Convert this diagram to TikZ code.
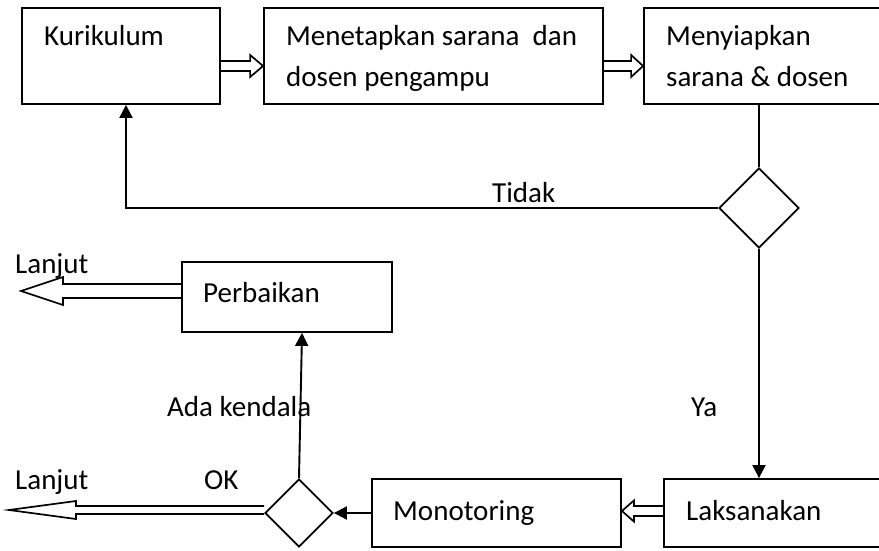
\documentclass[tikz,border=0pt]{standalone}
\usepackage{fontspec}
\setmainfont{Carlito}
\usetikzlibrary{shapes.geometric,arrows.meta,calc}

% Hollow block arrow, open at its back end:
% #1 start point, #2 tip point, #3 half body width, #4 half head width, #5 head length (signed)
\newcommand\hollowarr[5]{%
  \draw[blockarrow] let \p1=(#1), \p2=(#2) in
    (\x1,\y1+#3) -- (\x2+#5,\y1+#3) -- (\x2+#5,\y1+#4) -- (\x2,\y1)
    -- (\x2+#5,\y1-#4) -- (\x2+#5,\y1-#3) -- (\x1,\y1-#3);}

\tikzset{
  box/.style={draw, rectangle, line width=1.8pt, inner sep=0pt},
  choice/.style={draw, diamond, line width=1.8pt, inner sep=0pt, aspect=1},
  txt/.style={inner sep=0pt, anchor=base west, font=\fontsize{29}{35}\selectfont},
  flow/.style={line width=1.9pt, -{Triangle[length=13pt,width=13pt]}},
  plain/.style={line width=1.9pt},
  blockarrow/.style={line width=1.7pt, line join=miter},
}

\begin{document}
\begin{tikzpicture}[x=1pt,y=-1pt]
  \useasboundingbox (0,0) rectangle (879,551);
  \clip (0,0) rectangle (879,551);

  % process boxes
  \node[box, minimum width=198pt, minimum height=96pt] (kur) at (121,56) {};
  \node[box, minimum width=339pt, minimum height=96pt] (men) at (433.5,56) {};
  \node[box, minimum width=256pt, minimum height=96pt] (siap) at (772,56) {};
  \node[box, minimum width=210pt, minimum height=70pt] (per) at (287,297) {};
  \node[box, minimum width=249pt, minimum height=68pt] (mon) at (496.5,513) {};
  \node[box, minimum width=236pt, minimum height=68pt] (lak) at (782,513) {};

  % decisions
  \node[choice, minimum width=80pt, minimum height=80pt] (d1) at (759,208) {};
  \node[choice, minimum width=68pt, minimum height=68pt] (d2) at (299,513) {};

  % box texts
  \node[txt] (kurT) at (44,46) {Kurikulum};
  \node[txt] (menT1) at (286,46) {Menetapkan sarana~ dan};
  \node[txt] (menT2) at (286,87) {dosen pengampu};
  \node[txt] (siapT1) at (666,46) {Menyiapkan};
  \node[txt] (siapT2) at (666,87) {sarana \& dosen};
  \node[txt] (perT) at (203,302) {Perbaikan};
  \node[txt] (monT) at (393,520) {Monotoring};
  \node[txt] (lakT) at (686,520) {Laksanakan};

  % connector labels
  \node[txt] (tidak) at (492,202) {Tidak};
  \node[txt] (ya) at (691,416) {Ya};
  \node[txt] (ada) at (167,416) {Ada kendala};
  \node[txt] (ok) at (204,489) {OK};
  \node[txt] (lanjut1) at (15,273) {Lanjut};
  \node[txt] (lanjut2) at (15,489) {Lanjut};

  % free ends of the two exit arrows
  \coordinate (out1) at (21,291);
  \coordinate (out2) at (9,510);

  % hollow block arrows
  \hollowarr{[yshift=-10pt]kur.east}{[yshift=-10pt]men.west}{5pt}{11pt}{-13pt}
  \hollowarr{[yshift=-10pt]men.east}{[yshift=-10pt]siap.west}{5pt}{11pt}{-12pt}
  \hollowarr{[yshift=2pt]lak.west}{[yshift=2pt]mon.east}{5pt}{10.5pt}{12pt}
  \hollowarr{[yshift=6pt]per.west}{out1}{7pt}{14pt}{42pt}
  \hollowarr{[yshift=3pt]d2.west}{out2}{4pt}{9pt}{67pt}

  % solid connectors
  \draw[plain] (d1.north) -- (d1.north |- siap.south);
  \draw[flow] (d1.west) -- ([xshift=5pt]kur.south |- d1.west) -- ([xshift=5pt]kur.south);
  \draw[flow] (d1.south) -- (d1.south |- lak.north);
  \draw[flow] (mon.west) -- (d2.east);
  \draw[flow] (d2.north) -- ([xshift=3pt]d2.north |- per.south);
\end{tikzpicture}
\end{document}
